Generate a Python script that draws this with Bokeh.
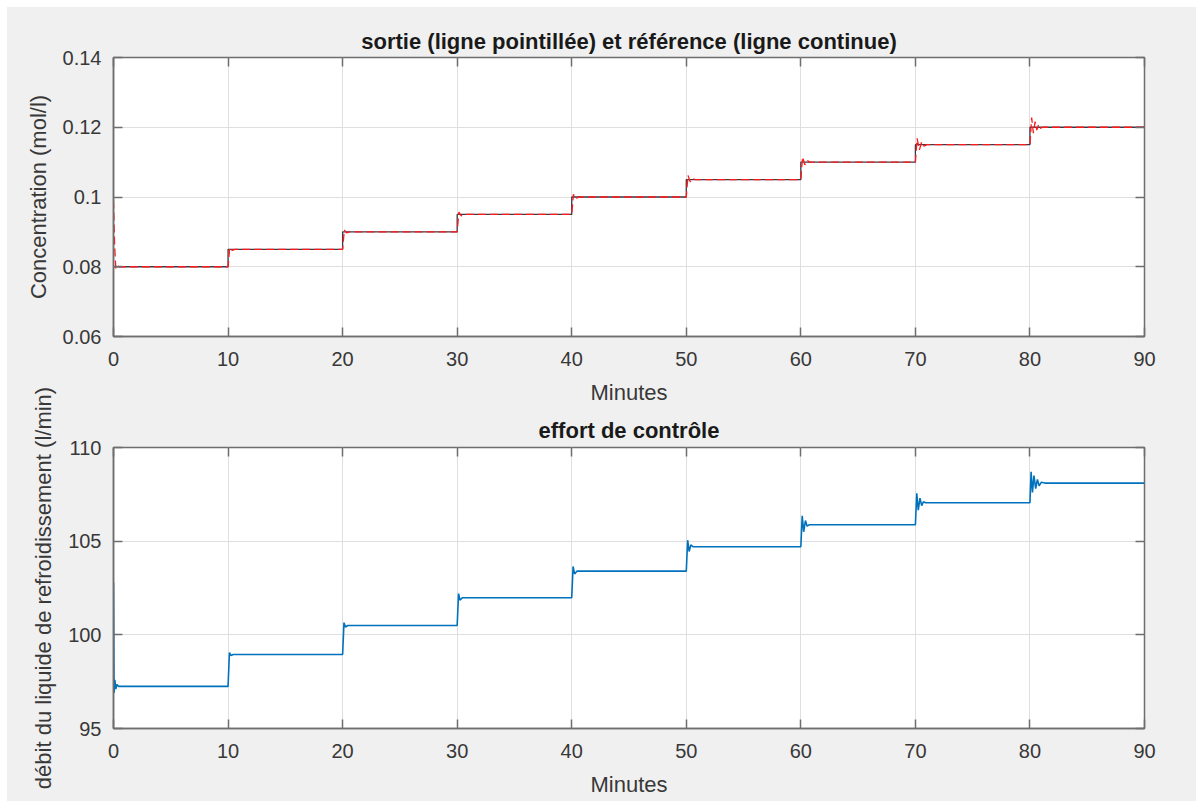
from bokeh.plotting import figure
from bokeh.layouts import column
from bokeh.models import FixedTicker, LinearAxis, CustomJSTickFormatter
from bokeh.embed import file_html
from bokeh.resources import INLINE

# ---------------- data ----------------
x_ticks = [0, 10, 20, 30, 40, 50, 60, 70, 80, 90]
conc_ticks = [0.06, 0.08, 0.1, 0.12, 0.14]
flow_ticks = [95, 100, 105, 110]

# reference (solid line): set-point levels
ref_t = [0, 10, 20, 30, 40, 50, 60, 70, 80, 90]
ref_c = [0.08, 0.085, 0.09, 0.095, 0.10, 0.105, 0.11, 0.115, 0.12, 0.12]

# output (dashed line)
out_t = [0.0, 0.1, 0.2, 0.35, 0.5,
         10.0, 10.15, 10.35, 10.6,
         20.0, 20.15, 20.35, 20.6,
         30.0, 30.15, 30.35, 30.6,
         40.0, 40.15, 40.35, 40.6,
         50.0, 50.15, 50.35, 50.55, 50.8,
         60.0, 60.15, 60.35, 60.55, 60.8,
         70.0, 70.15, 70.35, 70.55, 70.75, 71.0,
         80.0, 80.15, 80.3, 80.45, 80.6, 80.75, 80.9, 81.1, 90.0]
out_c = [0.099, 0.086, 0.0795, 0.0803, 0.08,
         0.08, 0.0856, 0.0847, 0.085,
         0.085, 0.0906, 0.0897, 0.09,
         0.09, 0.0957, 0.0946, 0.095,
         0.095, 0.1008, 0.0995, 0.1,
         0.1, 0.1062, 0.1043, 0.1053, 0.105,
         0.105, 0.1115, 0.1092, 0.1105, 0.11,
         0.11, 0.1168, 0.1135, 0.1158, 0.1146, 0.115,
         0.115, 0.1228, 0.1183, 0.1216, 0.1192, 0.1207, 0.1197, 0.12, 0.12]

# control effort (cooling flow)
flow_t = [0.0, 0.05, 0.12, 0.2, 0.3, 0.45,
          10.0, 10.12, 10.25, 10.45,
          20.0, 20.12, 20.25, 20.45,
          30.0, 30.12, 30.25, 30.45,
          40.0, 40.12, 40.25, 40.45,
          50.0, 50.12, 50.25, 50.4, 50.6,
          60.0, 60.12, 60.25, 60.4, 60.55, 60.75,
          70.0, 70.12, 70.25, 70.4, 70.55, 70.7, 70.9,
          80.0, 80.1, 80.22, 80.35, 80.5, 80.65, 80.8, 81.0, 81.3, 90.0]
flow_q = [102.8, 96.9, 97.6, 97.1, 97.35, 97.25,
          97.25, 99.05, 98.9, 98.95,
          98.95, 100.65, 100.42, 100.5,
          100.5, 102.2, 101.85, 101.98,
          101.98, 103.65, 103.25, 103.4,
          103.4, 105.05, 104.45, 104.8, 104.7,
          104.7, 106.35, 105.5, 106.1, 105.8, 105.88,
          105.88, 107.55, 106.65, 107.3, 106.9, 107.1, 107.05,
          107.05, 108.7, 107.6, 108.5, 107.8, 108.3, 107.95, 108.15, 108.1, 108.1]

FONT = "Liberation Sans"
AX_COL = "#6e6e6e"
TXT_COL = "#383838"
BG = "#f0f0f0"

fmt = CustomJSTickFormatter(code="return String(Number(tick.toFixed(4)));")


def style(p, yticks, title, ylabel, title_standoff):
    p.title.text = title
    p.title.align = "center"
    p.title.text_font = FONT
    p.title.text_font_size = "22px"
    p.title.text_font_style = "bold"
    p.title.text_color = "#1a1a1a"
    p.title.standoff = title_standoff
    p.background_fill_color = "white"
    p.outline_line_color = AX_COL
    p.outline_line_width = 1.5
    p.xaxis.ticker = FixedTicker(ticks=x_ticks)
    p.yaxis.ticker = FixedTicker(ticks=yticks)
    p.yaxis.formatter = fmt
    p.xaxis.axis_label = "Minutes"
    p.yaxis.axis_label = ylabel
    for ax in (p.xaxis, p.yaxis):
        ax.axis_line_color = AX_COL
        ax.axis_line_width = 1.5
        ax.major_tick_in = 9
        ax.major_tick_out = 0
        ax.major_tick_line_color = AX_COL
        ax.major_tick_line_width = 1.5
        ax.minor_tick_line_color = None
        ax.major_label_text_font = FONT
        ax.major_label_text_font_size = "20px"
        ax.major_label_text_color = TXT_COL
        ax.major_label_standoff = 12
        ax.axis_label_text_font = FONT
        ax.axis_label_text_font_size = "22px"
        ax.axis_label_text_font_style = "normal"
        ax.axis_label_text_color = TXT_COL
    p.xaxis.major_label_standoff = 15
    p.xaxis.axis_label_standoff = 11
    p.yaxis.axis_label_standoff = 9
    p.xgrid.ticker = FixedTicker(ticks=x_ticks)
    p.ygrid.ticker = FixedTicker(ticks=yticks)
    p.grid.grid_line_color = "#dfdfdf"
    p.grid.grid_line_width = 1
    # mirrored ticks on top and right (box style), no labels
    top = LinearAxis(ticker=FixedTicker(ticks=x_ticks), axis_line_color=None,
                     major_tick_in=9, major_tick_out=0, major_tick_line_color=AX_COL,
                     major_tick_line_width=1.5, minor_tick_line_color=None,
                     major_label_text_color=None, major_label_text_font_size="1px",
                     major_label_standoff=0)
    right = LinearAxis(ticker=FixedTicker(ticks=yticks), axis_line_color=None,
                       major_tick_in=9, major_tick_out=0, major_tick_line_color=AX_COL,
                       major_tick_line_width=1.5, minor_tick_line_color=None,
                       major_label_text_color=None, major_label_text_font_size="1px",
                       major_label_standoff=0)
    p.add_layout(top, "above")
    p.add_layout(right, "right")


p1 = figure(width=1189, height=400, x_range=(0, 90), y_range=(0.06, 0.14),
            output_backend="svg", toolbar_location=None,
            min_border_left=106, min_border_right=52, min_border_top=50, min_border_bottom=69)
style(p1, conc_ticks, "sortie (ligne pointillée) et référence (ligne continue)",
      "Concentration (mol/l)", 8)
p1.border_fill_color = BG
p1.step(ref_t, ref_c, mode="after", line_color="#3a3a4a", line_width=1.3)
p1.line(out_t, out_c, line_color="#ff1a1a", line_width=1.3, line_dash="8 4")

# the lower panel overlaps the upper one a little (transparent border) so that
# its long vertical label has room, as in the original figure
OVER = 60
p2 = figure(width=1189, height=394 + OVER, x_range=(0, 90), y_range=(95, 110),
            output_backend="svg", toolbar_location=None,
            min_border_left=106, min_border_right=52, min_border_top=40 + OVER,
            min_border_bottom=73, styles={"margin-top": f"-{OVER}px"})
style(p2, flow_ticks, "effort de contrôle", "débit du liquide de refroidissement (l/min)", 10)
p2.border_fill_alpha = 0
p2.line(flow_t, flow_q, line_color="#0072bd", line_width=1.6)

layout = column(p1, p2, spacing=0, margin=(7, 0, 0, 7), styles={"background-color": BG})

open("out.html", "w").write(file_html(layout, INLINE))
